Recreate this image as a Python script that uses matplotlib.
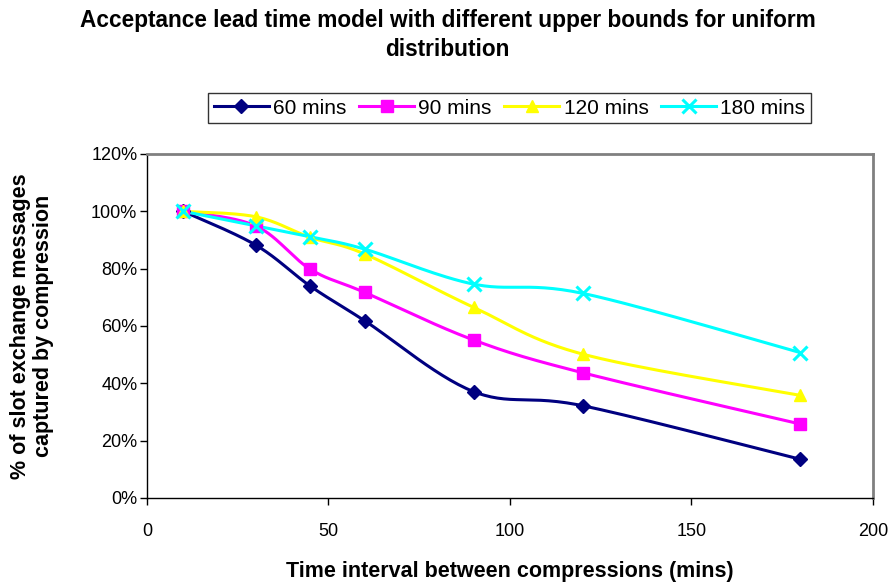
import numpy as np
import matplotlib.pyplot as plt
from matplotlib.ticker import FuncFormatter

plt.rcParams['font.family'] = ['Liberation Sans', 'DejaVu Sans']

intervals = [10, 30, 45, 60, 90, 120, 180]
labels = ["60 mins", "90 mins", "120 mins", "180 mins"]
pct_60 = [100, 88.2, 73.9, 61.8, 37.1, 32.2, 13.5]
pct_90 = [100, 94.9, 79.8, 71.7, 55.1, 43.7, 25.8]
pct_120 = [100, 98.1, 90.9, 85.1, 66.5, 50.2, 35.8]
pct_180 = [100, 94.9, 91.1, 86.8, 74.6, 71.4, 50.7]

colors = ["#000080", "#FF00FF", "#FFFF00", "#00FFFF"]
markers = ["D", "s", "^", "x"]
msizes = [7, 9, 9, 10]


def smooth(x, y, n=30):
    # excel style smoothing: bezier with catmull-rom control points,
    # done in scaled coordinates so both axes weigh about the same
    px = np.asarray(x, float) / 200 * 726
    py = np.asarray(y, float) / 120 * 344
    P = np.column_stack([px, py])
    out = []
    for i in range(len(P) - 1):
        p0 = P[i - 1] if i > 0 else P[i]
        p3 = P[i + 2] if i + 2 < len(P) else P[i + 1]
        p1, p2 = P[i], P[i + 1]
        c1 = p1 + (p2 - p0) / 6
        c2 = p2 - (p3 - p1) / 6
        t = np.linspace(0, 1, n)[:, None]
        seg = (1 - t) ** 3 * p1 + 3 * (1 - t) ** 2 * t * c1 + 3 * (1 - t) * t ** 2 * c2 + t ** 3 * p2
        out.append(seg if i == 0 else seg[1:])
    out = np.vstack(out)
    return out[:, 0] / 726 * 200, out[:, 1] / 344 * 120


fig = plt.figure(figsize=(8.95, 5.82), dpi=100)
ax = fig.add_axes([147 / 895, 1 - 498 / 582, 726 / 895, 344 / 582])

series = [pct_60, pct_90, pct_120, pct_180]
handles = []
for vals, c, m, ms, lab in zip(series, colors, markers, msizes, labels):
    sx, sy = smooth(intervals, vals)
    ax.plot(sx, sy, color=c, lw=2.2, zorder=2)
    mew = 2.2 if m == "x" else 1
    ax.plot(intervals, vals, ls="none", marker=m, color=c, ms=ms, mew=mew, zorder=3)
    h, = ax.plot([], [], color=c, lw=2.2, marker=m, ms=ms, mew=mew, label=lab)
    handles.append(h)

ax.set_xlim(0, 200)
ax.set_ylim(0, 120)
ax.set_xticks([0, 50, 100, 150, 200])
ax.set_yticks(np.arange(0, 121, 20))
ax.yaxis.set_major_formatter(FuncFormatter(lambda v, p: f"{v:.0f}%"))
ax.tick_params(direction="out", length=5, width=1)
ax.tick_params(axis="x", labelsize=13, pad=13)
ax.tick_params(axis="y", labelsize=13, pad=2)

for s in ["top", "right"]:
    ax.spines[s].set_color("#808080")
    ax.spines[s].set_linewidth(2)
for s in ["left", "bottom"]:
    ax.spines[s].set_color("black")
    ax.spines[s].set_linewidth(1)

ax.set_xlabel("Time interval between compressions (mins)", fontsize=15.5, fontweight="bold")
ax.xaxis.set_label_coords(0.5, -(571 - 498) / 344, transform=ax.transAxes)
ax.xaxis.label.set_va("center")
ax.set_ylabel("% of slot exchange messages\ncaptured by compression", fontsize=15.5,
              fontweight="bold", linespacing=1.15)
ax.yaxis.set_label_coords(-(147 - 32) / 726, 0.5, transform=ax.transAxes)
ax.yaxis.label.set_va("center")

fig.text(0.5, 1 - 35 / 582, "Acceptance lead time model with different upper bounds for uniform\ndistribution",
         ha="center", va="center", fontsize=16.3, fontweight="bold", linespacing=1.3)

leg = fig.legend(handles=handles, ncol=4, loc="center", bbox_to_anchor=(509.5 / 895, 1 - 108 / 582),
                 fontsize=15, frameon=True, fancybox=False, edgecolor="black",
                 handlelength=2.65, handletextpad=0.2, columnspacing=0.6,
                 borderpad=0.25, borderaxespad=0)
leg.get_frame().set_linewidth(1)

fig.savefig("out.png", dpi=100)
